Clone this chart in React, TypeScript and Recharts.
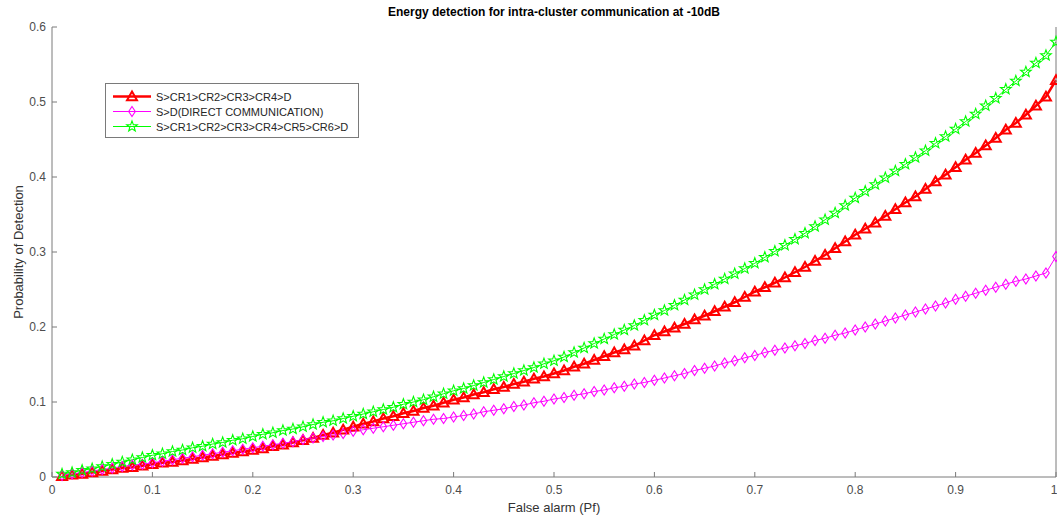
import React from "react";
import { Line, LineChart, XAxis, YAxis } from "recharts";

// false alarm probability (Pf), one marker every 0.01
const falseAlarm = [
  0.01, 0.02, 0.03, 0.04, 0.05, 0.06, 0.07, 0.08, 0.09, 0.1,
  0.11, 0.12, 0.13, 0.14, 0.15, 0.16, 0.17, 0.18, 0.19, 0.2,
  0.21, 0.22, 0.23, 0.24, 0.25, 0.26, 0.27, 0.28, 0.29, 0.3,
  0.31, 0.32, 0.33, 0.34, 0.35, 0.36, 0.37, 0.38, 0.39, 0.4,
  0.41, 0.42, 0.43, 0.44, 0.45, 0.46, 0.47, 0.48, 0.49, 0.5,
  0.51, 0.52, 0.53, 0.54, 0.55, 0.56, 0.57, 0.58, 0.59, 0.6,
  0.61, 0.62, 0.63, 0.64, 0.65, 0.66, 0.67, 0.68, 0.69, 0.7,
  0.71, 0.72, 0.73, 0.74, 0.75, 0.76, 0.77, 0.78, 0.79, 0.8,
  0.81, 0.82, 0.83, 0.84, 0.85, 0.86, 0.87, 0.88, 0.89, 0.9,
  0.91, 0.92, 0.93, 0.94, 0.95, 0.96, 0.97, 0.98, 0.99, 1.0,
];

// S>CR1>CR2>CR3>CR4>D
const relay4 = [
  0.001, 0.003, 0.004, 0.006, 0.008, 0.01, 0.012, 0.013, 0.015, 0.017,
  0.019, 0.02, 0.022, 0.024, 0.026, 0.028, 0.03, 0.032, 0.034, 0.036,
  0.038, 0.041, 0.043, 0.046, 0.049, 0.052, 0.056, 0.059, 0.063, 0.067,
  0.071, 0.074, 0.078, 0.081, 0.085, 0.088, 0.092, 0.095, 0.099, 0.103,
  0.106, 0.11, 0.113, 0.117, 0.12, 0.124, 0.127, 0.131, 0.134, 0.138,
  0.142, 0.147, 0.151, 0.156, 0.161, 0.166, 0.17, 0.175, 0.182, 0.189,
  0.194, 0.199, 0.204, 0.21, 0.215, 0.221, 0.227, 0.233, 0.24, 0.247,
  0.253, 0.259, 0.266, 0.273, 0.28, 0.288, 0.296, 0.305, 0.314, 0.323,
  0.331, 0.339, 0.348, 0.357, 0.366, 0.374, 0.384, 0.394, 0.403, 0.413,
  0.423, 0.432, 0.442, 0.452, 0.463, 0.472, 0.483, 0.495, 0.507, 0.529,
];

// S>D (direct communication)
const direct = [
  0.002, 0.004, 0.006, 0.008, 0.01, 0.012, 0.014, 0.016, 0.017, 0.019,
  0.021, 0.023, 0.025, 0.027, 0.029, 0.031, 0.033, 0.035, 0.037, 0.039,
  0.041, 0.043, 0.045, 0.047, 0.05, 0.052, 0.054, 0.056, 0.058, 0.061,
  0.063, 0.065, 0.067, 0.069, 0.071, 0.073, 0.075, 0.077, 0.078, 0.08,
  0.082, 0.084, 0.087, 0.089, 0.091, 0.094, 0.096, 0.099, 0.101, 0.104,
  0.106, 0.109, 0.111, 0.114, 0.116, 0.119, 0.121, 0.124, 0.126, 0.129,
  0.132, 0.135, 0.138, 0.142, 0.145, 0.148, 0.152, 0.155, 0.159, 0.162,
  0.166, 0.169, 0.172, 0.175, 0.178, 0.182, 0.185, 0.189, 0.192, 0.196,
  0.2, 0.204, 0.208, 0.212, 0.216, 0.22, 0.224, 0.228, 0.232, 0.237,
  0.241, 0.245, 0.249, 0.253, 0.257, 0.261, 0.264, 0.268, 0.272, 0.294,
];

// S>CR1>CR2>CR3>CR4>CR5>CR6>D
const relay6 = [
  0.004, 0.006, 0.009, 0.011, 0.014, 0.017, 0.02, 0.023, 0.026, 0.029,
  0.031, 0.034, 0.036, 0.039, 0.041, 0.044, 0.046, 0.049, 0.051, 0.054,
  0.057, 0.059, 0.062, 0.064, 0.067, 0.07, 0.073, 0.075, 0.078, 0.081,
  0.084, 0.087, 0.09, 0.093, 0.097, 0.1, 0.103, 0.107, 0.111, 0.115,
  0.118, 0.122, 0.126, 0.13, 0.134, 0.138, 0.142, 0.146, 0.151, 0.155,
  0.16, 0.166, 0.172, 0.178, 0.184, 0.19, 0.196, 0.202, 0.209, 0.216,
  0.222, 0.229, 0.236, 0.243, 0.25, 0.257, 0.264, 0.271, 0.278, 0.285,
  0.293, 0.301, 0.309, 0.317, 0.325, 0.334, 0.343, 0.352, 0.362, 0.372,
  0.381, 0.39, 0.399, 0.408, 0.417, 0.426, 0.435, 0.445, 0.454, 0.464,
  0.474, 0.484, 0.495, 0.505, 0.517, 0.528, 0.54, 0.552, 0.562, 0.58,
];

const xTicks = [0, 0.1, 0.2, 0.3, 0.4, 0.5, 0.6, 0.7, 0.8, 0.9, 1];
const yTicks = [0, 0.1, 0.2, 0.3, 0.4, 0.5, 0.6];

const seriesNames = [
  "S>CR1>CR2>CR3>CR4>D",
  "S>D(DIRECT COMMUNICATION)",
  "S>CR1>CR2>CR3>CR4>CR5>CR6>D",
];

const data = falseAlarm.map((x, i) => ({
  x,
  relay4: relay4[i],
  direct: direct[i],
  relay6: relay6[i],
}));

const FONT = '"Liberation Sans", Arial, sans-serif';
const AXIS = "#7a7a7a";
const RED = "#ff0000";
const MAGENTA = "#ff00ff";
const GREEN = "#00ff00";

function triangle(cx: number, cy: number) {
  return `${cx},${cy - 5} ${cx + 5},${cy + 3.8} ${cx - 5},${cy + 3.8}`;
}

function diamond(cx: number, cy: number) {
  return `${cx},${cy - 5} ${cx + 3.3},${cy} ${cx},${cy + 5} ${cx - 3.3},${cy}`;
}

function star(cx: number, cy: number) {
  const pts: string[] = [];
  for (let k = 0; k < 10; k++) {
    const r = k % 2 === 0 ? 5.6 : 2.3;
    const a = -Math.PI / 2 + (k * Math.PI) / 5;
    pts.push(`${cx + r * Math.cos(a)},${cy + r * Math.sin(a)}`);
  }
  return pts.join(" ");
}

const TriDot = (p: any) => (
  <polygon key={`t${p.index}`} points={triangle(p.cx, p.cy)} fill="none" stroke={RED} strokeWidth={2} />
);
const DiaDot = (p: any) => (
  <polygon key={`d${p.index}`} points={diamond(p.cx, p.cy)} fill="none" stroke={MAGENTA} strokeWidth={1.1} />
);
const StarDot = (p: any) => (
  <polygon key={`s${p.index}`} points={star(p.cx, p.cy)} fill="none" stroke={GREEN} strokeWidth={1.1} />
);

function LegendBox() {
  const rows = [
    { color: RED, width: 2.5, shape: triangle },
    { color: MAGENTA, width: 1, shape: diamond },
    { color: GREEN, width: 1, shape: star },
  ];
  return (
    <div
      style={{
        position: "absolute",
        left: 105,
        top: 83,
        width: 252,
        height: 53,
        border: "1px solid #7a7a7a",
        background: "#fff",
        fontFamily: FONT,
        fontSize: 11,
        color: "#262626",
      }}
    >
      {rows.map((r, i) => (
        <div
          key={i}
          style={{ position: "absolute", left: 6, top: 5 + i * 15, height: 15, display: "flex", alignItems: "center" }}
        >
          <svg width={40} height={15}>
            <line x1={1} y1={7.5} x2={39} y2={7.5} stroke={r.color} strokeWidth={r.width} />
            <polygon points={r.shape(20, 7.5)} fill="none" stroke={r.color} strokeWidth={i === 0 ? 2 : 1.1} />
          </svg>
          <span style={{ marginLeft: 4, whiteSpace: "nowrap" }}>{seriesNames[i]}</span>
        </div>
      ))}
    </div>
  );
}

export default function App() {
  const tick = { fill: "#4d4d4d", fontSize: 12, fontFamily: FONT };
  const fmt = (v: number) => String(v);
  return (
    <div style={{ position: "absolute", left: 0, top: 0, width: 1057, height: 520, background: "#fff" }}>
      <LineChart width={1057} height={520} data={data} margin={{ top: 27, right: 0, bottom: 0, left: 0 }}>
        <XAxis
          xAxisId="b"
          type="number"
          dataKey="x"
          domain={[0, 1]}
          ticks={xTicks}
          tickFormatter={fmt}
          height={43}
          tickSize={-5}
          tickMargin={13}
          tick={tick}
          stroke={AXIS}
        />
        <XAxis
          xAxisId="t"
          orientation="top"
          type="number"
          dataKey="x"
          domain={[0, 1]}
          ticks={xTicks}
          tickFormatter={() => ""}
          height={0}
          tickSize={-5}
          stroke={AXIS}
        />
        <YAxis
          yAxisId="l"
          type="number"
          domain={[0, 0.6]}
          ticks={yTicks}
          tickFormatter={fmt}
          width={52}
          tickSize={-5}
          tickMargin={11}
          tick={tick}
          stroke={AXIS}
        />
        <YAxis
          yAxisId="r"
          orientation="right"
          type="number"
          domain={[0, 0.6]}
          ticks={yTicks}
          tickFormatter={() => ""}
          width={1}
          tickSize={-5}
          stroke={AXIS}
        />
        <Line
          xAxisId="b"
          yAxisId="l"
          dataKey="relay4"
          name={seriesNames[0]}
          stroke={RED}
          strokeWidth={2.5}
          dot={TriDot}
          isAnimationActive={false}
        />
        <Line
          xAxisId="b"
          yAxisId="l"
          dataKey="direct"
          name={seriesNames[1]}
          stroke={MAGENTA}
          strokeWidth={1}
          dot={DiaDot}
          isAnimationActive={false}
        />
        <Line
          xAxisId="b"
          yAxisId="l"
          dataKey="relay6"
          name={seriesNames[2]}
          stroke={GREEN}
          strokeWidth={1}
          dot={StarDot}
          isAnimationActive={false}
        />
      </LineChart>
      <div
        style={{
          position: "absolute",
          left: 52,
          width: 1004,
          top: 5,
          textAlign: "center",
          fontFamily: FONT,
          fontSize: 12,
          fontWeight: "bold",
          color: "#000",
        }}
      >
        Energy detection for intra-cluster communication at -10dB
      </div>
      <div
        style={{
          position: "absolute",
          left: 52,
          width: 1004,
          top: 500,
          textAlign: "center",
          fontFamily: FONT,
          fontSize: 13,
          color: "#333",
        }}
      >
        False alarm (Pf)
      </div>
      <div
        style={{
          position: "absolute",
          left: 18,
          top: 252,
          transform: "translate(-50%, -50%) rotate(-90deg)",
          whiteSpace: "nowrap",
          fontFamily: FONT,
          fontSize: 13,
          color: "#333",
        }}
      >
        Probability of Detection
      </div>
      <LegendBox />
    </div>
  );
}
